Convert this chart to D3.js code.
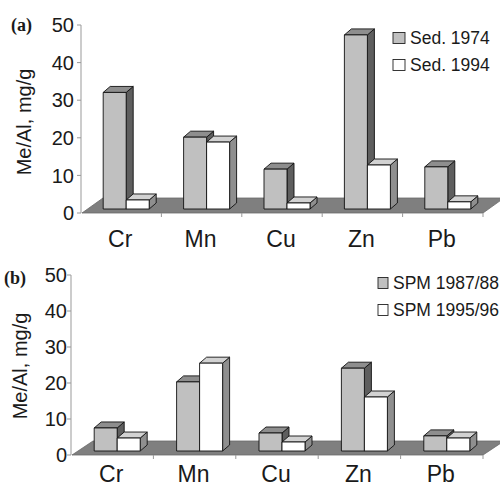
<!DOCTYPE html>
<html>
<head>
<meta charset="utf-8">
<script src="https://cdn.jsdelivr.net/npm/d3@7"></script>
<style>
  body { margin: 0; background: #fff; }
  text { font-family: "Liberation Sans", Arial, sans-serif; fill: #1a1a1a; }
</style>
</head>
<body>
<svg id="chart" width="500" height="486"></svg>
<script>
const categories = ["Cr", "Mn", "Cu", "Zn", "Pb"];
const yTicks = [0, 10, 20, 30, 40, 50];

// panel (a) - sediments
const sed1974 = [31, 19.1, 10.6, 46.3, 11.2];
const sed1994 = [2.4, 17.8, 1.6, 11.7, 1.9];
const legendA = ["Sed. 1974", "Sed. 1994"];

// panel (b) - suspended particulate matter
const spm8788 = [6.4, 19.2, 5, 23, 4.2];
const spm9596 = [3.6, 24.4, 2.5, 15, 3.6];
const legendB = ["SPM 1987/88", "SPM 1995/96"];

const svg = d3.select("#chart");

// face colours for the two series: front, top, side
const faces = [
  { front: "#c0c0c0", top: "#8e8e8e", side: "#5e5e5e" },
  { front: "#ffffff", top: "#d2d2d2", side: "#8f8f8f" }
];

function drawPanel(p) {
  const g = svg.append("g");

  const x = d3.scaleBand().domain(categories).range([p.axisX, p.xEnd]);
  const y = d3.scaleLinear().domain([0, 50]).range([p.y0, p.y50]);

  // floor
  const fd = p.floorD;
  g.append("path")
    .attr("d", d3.line()([
      [p.axisX + 1, p.y0], [p.xEnd, p.y0],
      [p.xEnd + fd[0], p.y0 + fd[1]], [p.axisX + 1 + fd[0], p.y0 + fd[1]]
    ]) + "Z")
    .attr("fill", "#7f7f7f")
    .attr("stroke", "#6a6a6a")
    .attr("stroke-width", 0.8);

  // category ticks along the front edge
  g.selectAll(".xt")
    .data(categories.slice(1).map(c => x(c)).concat([p.xEnd]))
    .enter().append("line")
    .attr("x1", d => d).attr("x2", d => d)
    .attr("y1", p.y0).attr("y2", p.y0 + 4)
    .attr("stroke", "#999").attr("stroke-width", 1);

  // value axis
  g.append("line")
    .attr("x1", p.axisX).attr("x2", p.axisX)
    .attr("y1", y(0)).attr("y2", y(50))
    .attr("stroke", "#999").attr("stroke-width", 1);
  g.selectAll(".yt").data(yTicks).enter().append("line")
    .attr("x1", p.axisX - 4).attr("x2", p.axisX)
    .attr("y1", d => y(d)).attr("y2", d => y(d))
    .attr("stroke", "#999");
  g.selectAll(".yl").data(yTicks).enter().append("text")
    .attr("x", p.tickX)
    .attr("y", d => y(d))
    .attr("dy", "0.36em")
    .attr("text-anchor", "end")
    .style("font-size", "20px")
    .text(d => d);

  // bars, drawn left to right so the next front face covers the side face
  const sb = p.barShift, dp = p.depth, w = p.barW;
  const baseY = y(0) + sb[1];
  categories.forEach((c, i) => {
    const cx = x(c) + x.bandwidth() / 2 + sb[0];
    p.series.forEach((s, k) => {
      const x0 = cx - w + k * w;
      const yt = y(s[i]) + sb[1];
      const col = faces[k];
      const bar = g.append("g").attr("stroke", "#111").attr("stroke-width", 0.9)
        .attr("stroke-linejoin", "round");
      bar.append("path")
        .attr("d", d3.line()([[x0 + w, yt], [x0 + w + dp[0], yt + dp[1]],
          [x0 + w + dp[0], baseY + dp[1]], [x0 + w, baseY]]) + "Z")
        .attr("fill", col.side);
      bar.append("path")
        .attr("d", d3.line()([[x0, yt], [x0 + dp[0], yt + dp[1]],
          [x0 + w + dp[0], yt + dp[1]], [x0 + w, yt]]) + "Z")
        .attr("fill", col.top);
      bar.append("rect")
        .attr("x", x0).attr("y", yt)
        .attr("width", w).attr("height", baseY - yt)
        .attr("fill", col.front);
    });
  });

  // category labels
  g.selectAll(".cl").data(categories).enter().append("text")
    .attr("x", d => x(d) + x.bandwidth() / 2 - 1)
    .attr("y", p.catY)
    .attr("text-anchor", "middle")
    .style("font-size", "23px")
    .text(d => d);

  // y title
  g.append("text")
    .attr("transform", `translate(${p.titleX},${p.titleY}) rotate(-90)`)
    .attr("text-anchor", "middle")
    .attr("dominant-baseline", "central")
    .style("font-size", "20px")
    .text("Me/Al, mg/g");

  // panel letter
  g.append("text")
    .attr("x", p.letterX).attr("y", p.letterY)
    .style("font-family", "'Liberation Serif', 'Times New Roman', serif")
    .style("font-weight", "bold")
    .style("font-size", "18px")
    .text(p.letter);

  // legend
  p.legend.forEach((name, k) => {
    const ly = p.legY + k * p.legStep;
    g.append("rect")
      .attr("x", p.legX).attr("y", ly - 5.5)
      .attr("width", p.legBox).attr("height", 11)
      .attr("fill", faces[k].front)
      .attr("stroke", "#222").attr("stroke-width", 0.9);
    g.append("text")
      .attr("x", p.legX + p.legBox + 5).attr("y", ly)
      .attr("dy", "0.36em")
      .style("font-size", "17.5px")
      .text(name);
  });
}

drawPanel({
  series: [sed1974, sed1994], legend: legendA, letter: "(a)",
  axisX: 81, xEnd: 483, y0: 213, y50: 25,
  floorD: [21, -15], barShift: [5, -4], depth: [7, -6], barW: 23,
  tickX: 74, catY: 247, titleX: 24, titleY: 122,
  letterX: 11, letterY: 31,
  legX: 393, legY: 38, legStep: 27, legBox: 12
});

drawPanel({
  series: [spm8788, spm9596], legend: legendB, letter: "(b)",
  axisX: 71, xEnd: 483, y0: 455, y50: 275,
  floorD: [21, -14], barShift: [5, -4], depth: [7, -6], barW: 23,
  tickX: 67, catY: 482, titleX: 20, titleY: 366,
  letterX: 4, letterY: 284,
  legX: 378, legY: 283, legStep: 27, legBox: 10
});
</script>
</body>
</html>
